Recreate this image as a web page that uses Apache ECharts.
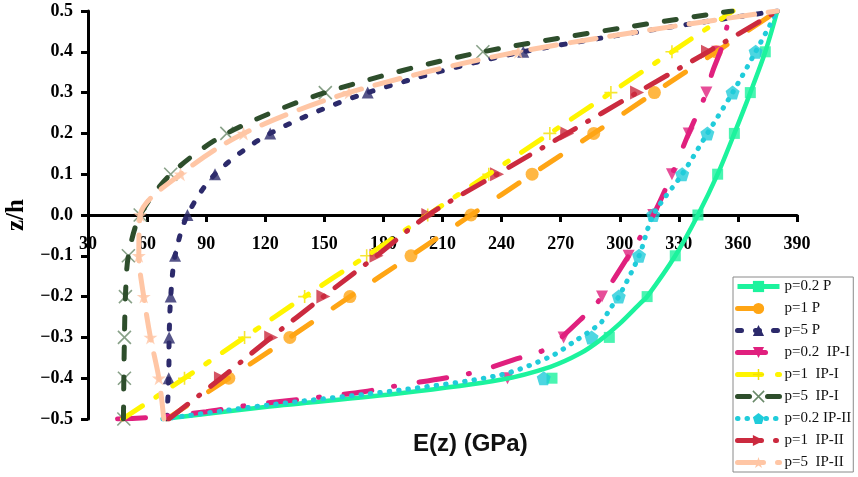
<!DOCTYPE html>
<html><head><meta charset="utf-8">
<script src="https://cdn.jsdelivr.net/npm/echarts/dist/echarts.min.js"></script>
<style>html,body{margin:0;padding:0;background:#fff}#c{width:858px;height:477px}</style>
</head><body><div id="c"></div>
<script>
// ---- data ----
const xMin = 30, xMax = 390, xStep = 30;
const zTicks = [-0.5,-0.4,-0.3,-0.2,-0.1,0,0.1,0.2,0.3,0.4,0.5];
const zMarks = [-0.4,-0.3,-0.2,-0.1,0,0.1,0.2,0.3,0.4];
const names = ['p=0.2 P','p=1 P','p=5 P','p=0.2  IP-I','p=1  IP-I','p=5  IP-I','p=0.2 IP-II','p=1  IP-II','p=5  IP-II'];

// marker values E(z) at zMarks
const mk_p02P   = [265.6, 294.7, 313.9, 328.2, 339.7, 349.7, 358.2, 366.3, 373.9];
const mk_p1P    = [101.5, 132.5, 163, 194, 224.5, 255.5, 286.8, 317.6, 349];
const mk_p5P    = [71, 71.2, 72, 74.2, 80.5, 94.5, 122.5, 172, 251];
const mk_p02IPI = [243, 271.5, 291, 304.5, 317, 326.5, 335, 344, 349.5];
const mk_p1IPI  = [79, 109.5, 140, 171.5, 202.5, 233.5, 264.5, 295.5, 326.5];
const mk_p5IPI  = [48.2, 48.5, 48.5, 49, 50.5, 56.5, 72, 100.5, 150.5, 230.5];   // from z=-0.5
const zMarks_p5IPI = [-0.5,-0.4,-0.3,-0.2,-0.1,0,0.1,0.2,0.3,0.4];
const mk_p02IPII = [261.4, 285.7, 299.5, 309.8, 317, 331.7, 344.5, 357.3, 369];
const mk_p1IPII  = [97.5, 123, 149.5, 176.5, 202.8, 237.7, 273.3, 308.8, 344.8];
const mk_p5IPII  = [66, 61.7, 58.3, 55.8, 56.5, 77, 109, 162.5, 248.5];

// line paths at zTicks
const ln_p1P    = [70, 101.5, 132.5, 163, 194, 224.5, 255.5, 286.8, 317.6, 349, 380];
const ln_p5P    = [70, 71, 71.2, 72, 74.2, 80.5, 94.5, 122.5, 172, 251, 380];
const ln_p1IPI  = [47.5, 79, 109.5, 140, 171.5, 202.5, 233.5, 264.5, 295.5, 326.5, 357.5];
const ln_p5IPI  = [48, 48.2, 48.5, 49, 50.5, 56.5, 72, 100.5, 150.5, 230.5, 357];
const ln_p1IPII = [71, 97.5, 123, 149.5, 176.5, 202.8, 237.7, 273.3, 308.8, 344.8, 380];
const ln_p5IPII = [68.5, 66, 61.7, 58.3, 55.8, 56.5, 77, 109, 162.5, 248.5, 380];

// traced line paths (E, z) for the curves that bend away from their markers
const tr_p02P_E = [68, 121, 188.6, 239.4, 264.8, 280, 290.2, 300.3, 310.5, 313.9, 328.2, 339.7, 349.7, 358.2, 366.3, 373.9, 380];
const tr_p02P_Z = [-0.5, -0.47, -0.437, -0.404, -0.372, -0.339, -0.306, -0.265, -0.216, -0.2, -0.1, 0, 0.1, 0.2, 0.3, 0.4, 0.5];
const tr_p02IPI_E = [45, 65, 90, 112, 150, 170, 188.6, 210.6, 227.6, 246, 263, 283.4, 291, 304.5, 317, 326.5, 335, 344, 347, 351, 353, 356];
const tr_p02IPI_Z = [-0.5, -0.495, -0.482, -0.466, -0.445, -0.433, -0.417, -0.4, -0.384, -0.355, -0.327, -0.241, -0.2, -0.1, 0, 0.1, 0.2, 0.3, 0.35, 0.4, 0.43, 0.5];
const tr_p02IPII_E = [68, 121, 188.6, 239.4, 264.8, 276.6, 290.2, 295.2, 299.5, 309.8, 317, 331.7, 344.5, 357.3, 369, 380];
const tr_p02IPII_Z = [-0.5, -0.466, -0.429, -0.392, -0.347, -0.311, -0.265, -0.229, -0.2, -0.1, 0, 0.1, 0.2, 0.3, 0.4, 0.5];

// ---- styles ----
const SYM = {
  down: 'path://M0,0L10,0L5,9Z',
  right: 'path://M0,0L9,5L0,10Z',
  pent: 'path://M5,0L10,3.6L8.1,9.5L1.9,9.5L0,3.6Z',
  star: 'path://M5,0L6.2,3.6L10,3.6L6.9,5.9L8.1,9.5L5,7.3L1.9,9.5L3.1,5.9L0,3.6L3.8,3.6Z',
  cross: 'path://M0,0L10,10M10,0L0,10',
  plus: 'path://M5,0L5,10M0,5L10,5'
};
const defs = [
  {name:names[0], color:'#1CF39D', width:4.5, dash:'solid', cap:'butt', sym:'rect', size:11, lE:tr_p02P_E, lZ:tr_p02P_Z, mE:mk_p02P, mZ:zMarks},
  {name:names[1], color:'#FFA514', width:5, dash:[24,26], cap:'round', sym:'circle', size:13, lE:ln_p1P, lZ:zTicks, mE:mk_p1P, mZ:zMarks},
  {name:names[2], color:'#2C2A6B', width:5, dash:[4,14], cap:'round', sym:'triangle', size:12, lE:ln_p5P, lZ:zTicks, mE:mk_p5P, mZ:zMarks},
  {name:names[3], color:'#E0207E', width:5, dash:[28,22,1,25], cap:'round', sym:SYM.down, size:12, lE:tr_p02IPI_E, lZ:tr_p02IPI_Z, mE:mk_p02IPI, mZ:zMarks},
  {name:names[4], color:'#FFF500', width:5, dash:[24,16,4,16], cap:'round', sym:SYM.plus, size:13, stroke:'#F2E000', lE:ln_p1IPI, lZ:zTicks, mE:mk_p1IPI, mZ:zMarks},
  {name:names[5], color:'#2E4E2C', width:5, dash:[12,18], cap:'round', sym:SYM.cross, size:13, stroke:'#6A8A6A', lE:ln_p5IPI, lZ:zTicks, mE:mk_p5IPI, mZ:zMarks_p5IPI},
  {name:names[6], color:'#20CCDA', width:5, dash:[0.5,9], cap:'round', sym:SYM.pent, size:14, lE:tr_p02IPII_E, lZ:tr_p02IPII_Z, mE:mk_p02IPII, mZ:zMarks},
  {name:names[7], color:'#CB2A3F', width:5, dash:[24,14,1,14], cap:'round', sym:SYM.right, size:14, lE:ln_p1IPII, lZ:zTicks, mE:mk_p1IPII, mZ:zMarks},
  {name:names[8], color:'#FFC6A5', width:5, dash:[26,14], cap:'round', sym:SYM.star, size:14, lE:ln_p5IPII, lZ:zTicks, mE:mk_p5IPII, mZ:zMarks}
];

const series = [];
defs.forEach(d => {
  series.push({
    type:'line', name:d.name, data:d.lE.map((e,i)=>[e, d.lZ[i]]),
    smooth:0.3, showSymbol:false, symbol:d.sym, symbolSize:d.size,
    lineStyle:{color:d.color, width:d.width, type:d.dash, cap:d.cap},
    itemStyle:{color:d.color}, silent:true, animation:false
  });
  series.push({
    type:'scatter', name:d.name, data:d.mE.map((e,i)=>[e, d.mZ[i]]),
    symbol:d.sym, symbolSize:d.size,
    itemStyle: d.stroke ? {color:'rgba(0,0,0,0)', borderColor:d.stroke, borderWidth:1.6} : {color:d.color},
    silent:true, animation:false
  });
});

const legendData = defs.map(d => {
  const o = {name:d.name, lineStyle:{color:d.color, type:d.dash, width:5, cap:d.cap}};
  if (d.stroke) o.itemStyle = {borderColor:d.stroke, borderWidth:1.5};
  return o;
});

const serif = "'Liberation Serif','Times New Roman',serif";
const chart = echarts.init(document.getElementById('c'), null, {renderer:'canvas'});
chart.setOption({
  animation:false,
  backgroundColor:'#fff',
  title:{text:'E(z) (GPa)', left:413, top:432, padding:0,
    textStyle:{fontFamily:"'Liberation Sans',Arial,sans-serif", fontWeight:'bold', fontSize:24, color:'#111'}},
  grid:{left:88, right:61, top:11, bottom:58, containLabel:false, outerBoundsMode:'none'},
  legend:{orient:'vertical', left:733, top:277, itemWidth:42, itemHeight:14, itemGap:7,
    padding:[2,2,2,2], borderColor:'#8a8a8a', borderWidth:1, selectedMode:false,
    textStyle:{fontFamily:serif, fontSize:15, lineHeight:14, color:'#111'},
    itemStyle:{borderWidth:0}, data:legendData},
  xAxis:{type:'value', min:xMin, max:xMax, interval:xStep, position:'bottom', offset:-204,
    axisLine:{show:true, onZero:false, lineStyle:{color:'#000', width:3}},
    axisTick:{show:true, length:7, lineStyle:{color:'#000', width:3}},
    axisLabel:{margin:20, fontFamily:serif, fontWeight:'bold', fontSize:18, color:'#000', showMinLabel:true, showMaxLabel:true},
    splitLine:{show:false}},
  yAxis:{type:'value', min:-0.5, max:0.5, interval:0.1,
    name:'z/h', nameLocation:'middle', nameRotate:90, nameGap:38,
    nameTextStyle:{fontFamily:serif, fontWeight:'bold', fontSize:25, color:'#000'},
    axisLine:{show:true, onZero:false, lineStyle:{color:'#000', width:3}},
    axisTick:{show:true, length:7, lineStyle:{color:'#000', width:3}},
    axisLabel:{margin:15, fontFamily:serif, fontWeight:'bold', fontSize:18, color:'#000',
      formatter: v => Math.abs(v) < 1e-9 ? '0.0' : (v < 0 ? '\u2212' : '') + Math.abs(v).toFixed(1)},
    splitLine:{show:false}},
  series: series
});
</script></body></html>
